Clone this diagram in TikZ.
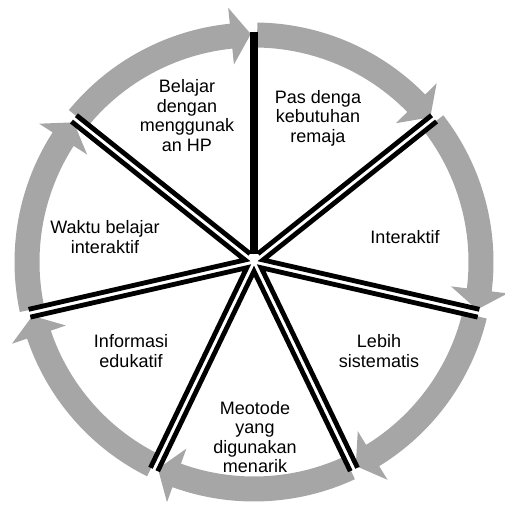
\documentclass[tikz,border=0pt]{standalone}
\usepackage{fontspec}
\setmainfont{Liberation Sans}
\definecolor{bandgray}{RGB}{166,166,166}
\begin{document}
\begin{tikzpicture}[x=1pt,y=1pt,
  lbl/.style={font=\fontsize{18}{19.4}\selectfont, align=center, inner sep=0pt},
  spoke/.style={line width=4.8pt, line join=miter, black},
  topspoke/.style={line width=8.5pt, black},
  band/.style={fill=bandgray}]
\useasboundingbox (0,0) rectangle (504,505);
\coordinate (C) at (254,243);
% gray circular arrows
\foreach \i in {0,...,6}{
  \pgfmathsetmacro{\angA}{90-\i*360/7}
  \pgfmathsetmacro{\angB}{\angA-360/7}
  \pgfmathsetmacro{\angS}{\angA-0.8}
  \pgfmathsetmacro{\angE}{\angB+5.8}
  \pgfmathsetmacro{\angT}{\angB+0.8}
  \path[band, shift={(C)}] (\angS:214.5) -- (\angS:239.5)
    arc[start angle=\angS, end angle=\angE, radius=239.5]
    -- (\angE:255.5) -- (\angT:228) -- (\angE:198.5) -- (\angE:214.5)
    arc[start angle=\angE, end angle=\angS, radius=214.5] -- cycle;
}
% wedge edges
\foreach \i in {1,...,5}{
  \pgfmathsetmacro{\angA}{90-\i*360/7}
  \pgfmathsetmacro{\angB}{\angA-360/7}
  \pgfmathsetmacro{\angM}{\angA-180/7}
  \draw[spoke, shift={(C)}, shift={(\angM:9.2)}] (\angA:222) -- (0,0) -- (\angB:222);
}
\draw[spoke, shift={(C)}, shift={(64.286:9.2)}] (0,0) -- (38.571:222);
\draw[spoke, shift={(C)}, shift={(115.714:9.2)}] (141.429:222) -- (0,0);
\draw[topspoke, shift={(C)}] (90:8) -- (90:230);
% labels
\node[lbl] (t0) at (187,389.5) {Belajar\\dengan\\menggunak\\an HP};
\node[lbl] (t1) at (318,387) {Pas denga\\kebutuhan\\remaja};
\node[lbl] (t2) at (405,268) {Interaktif};
\node[lbl] (t3) at (379,154) {Lebih\\sistematis};
\node[lbl] (t4) at (255,68) {Meotode\\yang\\digunakan\\menarik};
\node[lbl] (t5) at (131,154) {Informasi\\edukatif};
\node[lbl] (t6) at (105,268) {Waktu belajar\\interaktif};
\end{tikzpicture}
\end{document}
